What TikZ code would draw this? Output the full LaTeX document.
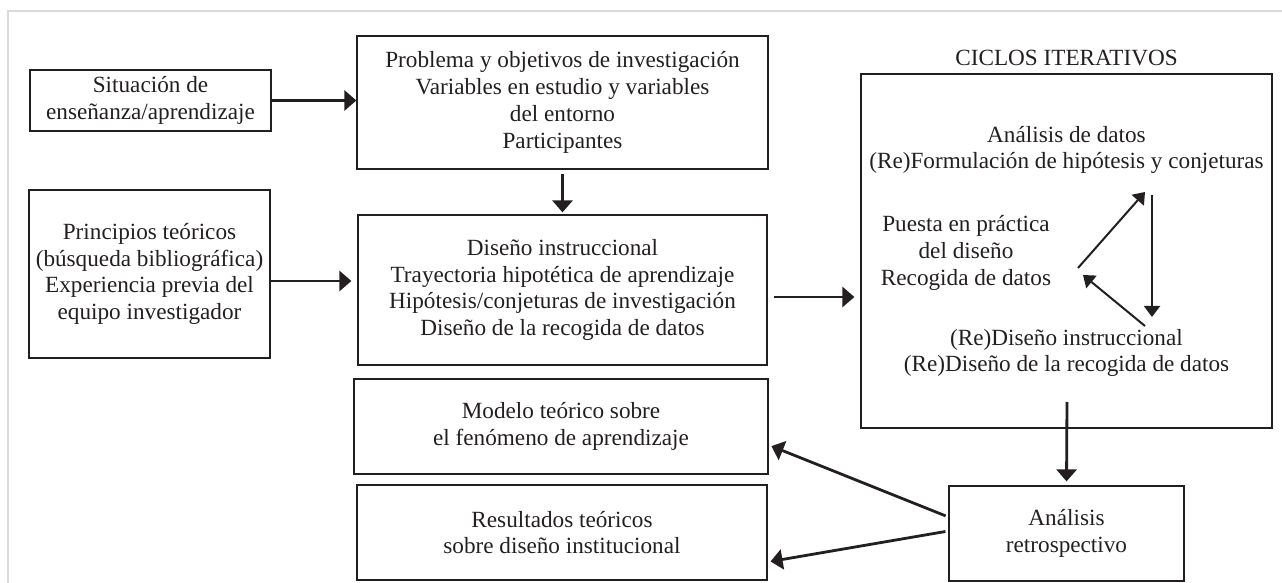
\documentclass[tikz,border=0pt]{standalone}
\usepackage{fontspec}
\setmainfont{Liberation Serif}
\usetikzlibrary{arrows.meta}
\definecolor{tinta}{HTML}{231F20}
\definecolor{marco}{HTML}{DADADA}
\begin{document}
\begin{tikzpicture}[x=0.5pt,y=-0.5pt,font=\fontsize{11.6}{13.4}\selectfont,text=tinta,
  caja/.style={draw=tinta,line width=0.6pt,align=center,inner sep=0pt},
  texto/.style={align=center,inner sep=0pt},
  flecha/.style={draw=tinta,-{Triangle[length=6pt,width=10pt]},line width=1.4pt},
  flechita/.style={draw=tinta,-{Triangle[length=5.5pt,width=8pt]},line width=1pt}]
\useasboundingbox (0,0) rectangle (1282,583);
\draw[marco,line width=0.8pt] (1282,11) -- (8,11) -- (8,583);
\node[caja,minimum width=120.5pt,minimum height=30.5pt] (sit) at (150.5,100.5) {Situación de\\enseñanza/aprendizaje};
\node[caja,minimum width=205.5pt,minimum height=66.5pt] (prob) at (562.5,102.5) {Problema y objetivos de investigación\\Variables en estudio y variables\\del entorno\\Participantes};
\node[caja,minimum width=120.5pt,minimum height=84pt] (prin) at (149.5,274) {Principios teóricos\\(búsqueda bibliográfica)\\Experiencia previa del\\equipo investigador};
\node[caja,minimum width=204.5pt,minimum height=75pt] (dis) at (562.5,290) {Diseño instruccional\\Trayectoria hipotética de aprendizaje\\Hipótesis/conjeturas de investigación\\Diseño de la recogida de datos};
\node[caja,minimum width=207pt,minimum height=47.5pt] (mod) at (561,426.5) {Modelo teórico sobre\\el fenómeno de aprendizaje};
\node[caja,minimum width=205pt,minimum height=47.5pt] (res) at (562,532.5) {Resultados teóricos\\sobre diseño institucional};
\node[caja,minimum width=205.5pt,minimum height=177pt] (ciclos) at (1066.5,251) {};
\node[texto] (titulo) at (1066.5,58) {CICLOS ITERATIVOS};
\node[caja,minimum width=117.5pt,minimum height=47.5pt] (retro) at (1066.5,533.5) {Análisis\\retrospectivo};
\node[texto] (ana) at (1066.5,150) {Análisis de datos\\(Re)Formulación de hipótesis y conjeturas};
\node[texto] (pues) at (966,253) {Puesta en práctica\\del diseño\\Recogida de datos};
\node[texto] (redis) at (1066.5,353) {(Re)Diseño instruccional\\(Re)Diseño de la recogida de datos};
\coordinate (sube) at (1078,268);
\coordinate (cima) at (1145,192);
\coordinate (bajaA) at (1152,195);
\coordinate (bajaB) at (1152,317);
\coordinate (vuelta) at (1145,326);
\coordinate (base) at (1083,275);
\coordinate (salida) at (1067,402);
\draw[flecha] (sit.east) -- (sit.east -| prob.west);
\draw[flecha,shorten <=2pt,shorten >=1pt] (prob.south) -- (dis.north);
\draw[flecha,shorten >=3pt] ([yshift=-3.5pt]prin.east) -- ([yshift=-3.5pt]prin.east -| dis.west);
\draw[flecha,shorten <=3pt,shorten >=3pt] ([yshift=-3.5pt]dis.east) -- ([yshift=-3.5pt]dis.east -| ciclos.west);
\draw[flechita] (sube) -- (cima);
\draw[flechita] (bajaA) -- (bajaB);
\draw[flechita] (vuelta) -- (base);
\draw[flecha,shorten >=2pt] (salida) -- (retro.north);
\draw[flecha,shorten <=1.5pt,shorten >=1.5pt] ([yshift=8.25pt]retro.west) -- ([yshift=-9.25pt]mod.east);
\draw[flecha,shorten <=1.5pt,shorten >=1.5pt] ([yshift=1.25pt]retro.west) -- ([yshift=-14.75pt]res.east);
\end{tikzpicture}
\end{document}
